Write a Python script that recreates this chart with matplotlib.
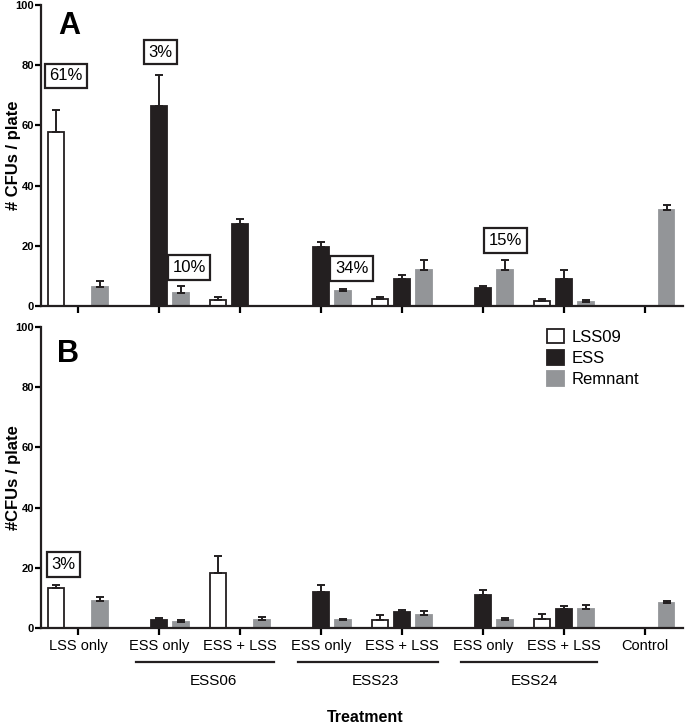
import numpy as np
import matplotlib
matplotlib.use("Agg")
import matplotlib.pyplot as plt
import matplotlib.transforms as mtransforms

plt.rcParams['font.family'] = ['Liberation Sans', 'DejaVu Sans']

nan = np.nan
categories = ["LSS only", "ESS only", "ESS + LSS", "ESS only", "ESS + LSS",
              "ESS only", "ESS + LSS", "Control"]
groups = ["ESS06", "ESS23", "ESS24"]
series = ["LSS09", "ESS", "Remnant"]

# panel A
lss_a = [57.7, nan, 2.1, nan, 2.2, nan, 1.6, nan]
lss_a_err = [7.3, nan, 0.9, nan, 0.7, nan, 0.7, nan]
ess_a = [nan, 66.3, 27.2, 19.7, 8.9, 6.0, 8.9, nan]
ess_a_err = [nan, 10.3, 1.8, 1.5, 1.3, 0.8, 3.1, nan]
rem_a = [6.2, 4.4, nan, 5.0, 11.9, 11.9, 1.3, 32.0]
rem_a_err = [2.2, 2.2, nan, 0.8, 3.5, 3.5, 0.8, 1.4]
pct_a = ["61%", "3%", "10%", "34%", "15%"]

# panel B
lss_b = [13.3, nan, 18.3, nan, 2.8, nan, 3.0, nan]
lss_b_err = [1.1, nan, 5.6, nan, 1.6, nan, 1.8, nan]
ess_b = [nan, 2.8, nan, 12.0, 5.3, 11.0, 6.3, nan]
ess_b_err = [nan, 0.6, nan, 2.3, 0.6, 1.6, 0.9, nan]
rem_b = [8.9, 1.9, 2.6, 2.7, 4.2, 2.6, 6.3, 8.3]
rem_b_err = [1.5, 0.9, 1.0, 0.4, 1.6, 0.8, 1.3, 0.6]
pct_b = ["3%"]

face = ["white", "#231f20", "#939598"]
edge = ["#231f20", "#231f20", "#939598"]

W, H = 685, 724
fig = plt.figure(figsize=(W / 100, H / 100), dpi=100)
axA = fig.add_axes([41 / W, 1 - 306 / H, 642 / W, 301 / H])
axB = fig.add_axes([41 / W, 1 - 628 / H, 642 / W, 301 / H])

x = np.arange(len(categories))
offs = [-0.27, 0.0, 0.27]


def draw_panel(ax, vals, errs):
    for k in range(3):
        v = np.array(vals[k], dtype=float)
        e = np.array(errs[k], dtype=float)
        m = ~np.isnan(v)
        xs = x[m] + offs[k]
        ax.bar(xs, v[m], width=0.19, color=face[k], edgecolor=edge[k],
               linewidth=1.3, label=series[k], zorder=2)
        ax.errorbar(xs, v[m], yerr=[np.zeros(m.sum()), e[m]], fmt='none',
                    ecolor="#231f20", elinewidth=1.4, capsize=3.1,
                    capthick=1.4, zorder=3)
    ax.set_xlim(-0.457, 7.47)
    ax.set_ylim(0, 100)
    ax.set_yticks([0, 20, 40, 60, 80, 100])
    ax.set_xticks(x)
    for s in ["top", "right"]:
        ax.spines[s].set_visible(False)
    for s in ["left", "bottom"]:
        ax.spines[s].set_linewidth(1.6)
        ax.spines[s].set_color("#231f20")
    ax.tick_params(axis='y', length=4, width=1.6, pad=1, labelsize=8)
    ax.tick_params(axis='x', length=5, width=1.6, pad=3)
    for t in ax.get_yticklabels():
        t.set_fontweight('bold')
    ax.yaxis.set_label_coords(-20 / 642, 0.5)


def pct_box(ax, txt, xd, yd):
    ax.text(xd, yd, txt, ha='center', va='center', fontsize=12, zorder=4,
            bbox=dict(boxstyle='square,pad=0.28', fc='white', ec='#231f20', lw=1.6))


draw_panel(axA, [lss_a, ess_a, rem_a], [lss_a_err, ess_a_err, rem_a_err])
draw_panel(axB, [lss_b, ess_b, rem_b], [lss_b_err, ess_b_err, rem_b_err])

axA.set_xticklabels([])
axA.set_ylabel("# CFUs / plate", fontsize=12, fontweight='bold')
axB.set_ylabel("#CFUs / plate", fontsize=12, fontweight='bold')
axB.set_xticklabels(categories, fontsize=10.5)

for txt, xd, yd in zip(pct_a, [-0.15, 1.02, 1.37, 3.38, 5.28], [76.5, 84.3, 12.8, 12.5, 21.8]):
    pct_box(axA, txt, xd, yd)
for txt, xd, yd in zip(pct_b, [-0.18], [21.1]):
    pct_box(axB, txt, xd, yd)

axA.text(-0.11, 93, "A", fontsize=22, fontweight='bold', ha='center', va='center')
axB.text(-0.12, 91, "B", fontsize=22, fontweight='bold', ha='center', va='center')

# group brackets under panel B
tr = mtransforms.blended_transform_factory(axB.transData, axB.transAxes)
line_x = [(0.71, 2.42), (2.72, 4.44), (4.73, 6.41)]
label_x = [1.67, 3.67, 5.64]
for g, (x0, x1), lx in zip(groups, line_x, label_x):
    axB.plot([x0, x1], [-0.113, -0.113], color="#231f20", lw=1.6,
             transform=tr, clip_on=False)
    axB.text(lx, -0.176, g, transform=tr, ha='center', va='center', fontsize=11)

axB.legend(loc='upper left', bbox_to_anchor=(506 / 642, 0.995), frameon=False,
           fontsize=12, handlelength=1.0, handleheight=1.0, handletextpad=0.5,
           labelspacing=0.3, borderpad=0, borderaxespad=0)

fig.text(365 / W, 1 - 717 / H, "Treatment", ha='center', va='center',
         fontsize=11.5, fontweight='bold')

fig.savefig("out.png", dpi=100)
